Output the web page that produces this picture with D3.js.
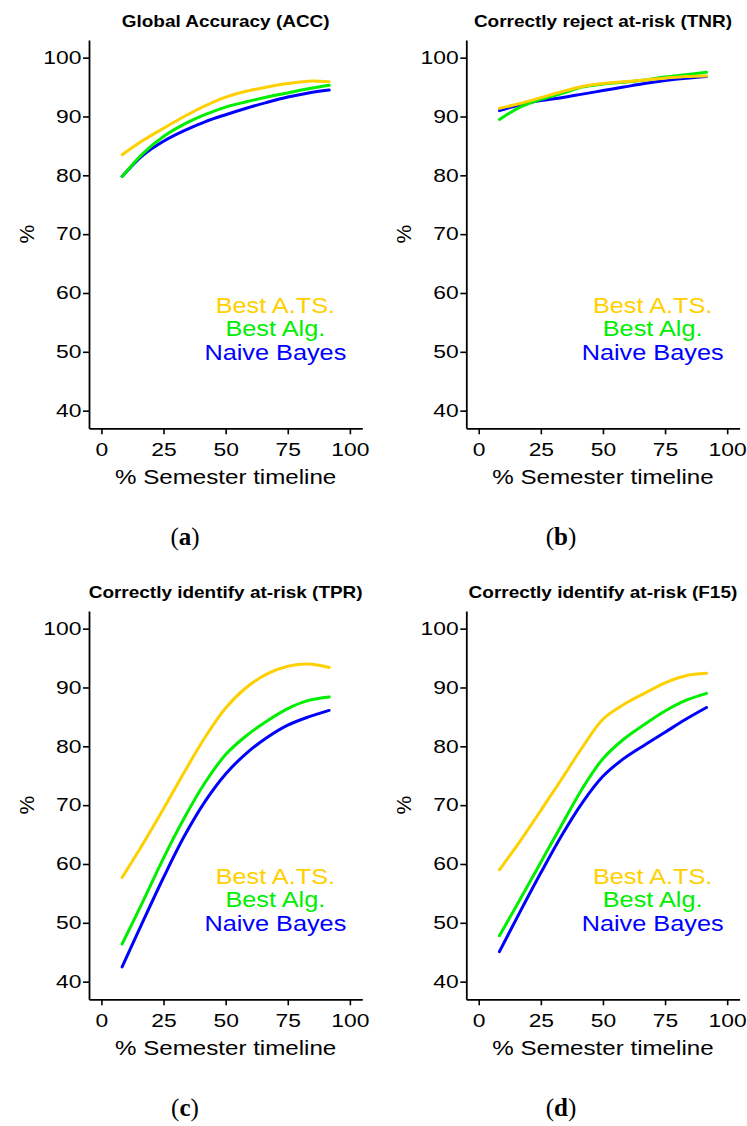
<!DOCTYPE html>
<html>
<head>
<meta charset="utf-8">
<script src="https://cdn.jsdelivr.net/npm/d3@7"></script>
<style>
body { margin: 0; background: #fff; }
</style>
</head>
<body>
<div id="fig"></div>
<script>
// x positions (% of semester) shared by all panels
var timeline = [8.33, 16.67, 25, 33.33, 41.67, 50, 58.33, 66.67, 75, 83.33, 91.67];

var seriesNames = ["Best A.TS.", "Best Alg.", "Naive Bayes"];
var seriesColors = ["#FFD000", "#00EE00", "#0000FF"];

// (a) ACC
var accATS = [83.5, 85.9, 88.0, 90.0, 91.8, 93.3, 94.3, 95.0, 95.6, 96.0, 95.9];
var accAlg = [79.8, 83.7, 86.6, 88.7, 90.3, 91.6, 92.5, 93.3, 94.0, 94.7, 95.3];
var accNB  = [79.8, 83.4, 85.8, 87.6, 89.1, 90.3, 91.4, 92.4, 93.3, 94.0, 94.5];
// (b) TNR
var tnrATS = [91.4, 92.2, 93.2, 94.2, 95.1, 95.6, 95.9, 96.2, 96.5, 96.8, 96.9];
var tnrAlg = [89.5, 91.6, 92.9, 93.9, 95.0, 95.5, 95.8, 96.2, 96.7, 97.1, 97.5];
var tnrNB  = [91.0, 92.0, 92.7, 93.2, 93.8, 94.4, 95.0, 95.6, 96.1, 96.5, 96.8];
// (c) TPR
var tprATS = [57.7, 63.4, 69.4, 75.6, 81.5, 86.5, 90.0, 92.3, 93.6, 94.0, 93.4];
var tprAlg = [46.4, 53.6, 61.0, 67.8, 73.8, 78.6, 81.8, 84.3, 86.4, 87.8, 88.4];
var tprNB  = [42.5, 50.2, 57.7, 64.7, 70.6, 75.3, 78.8, 81.5, 83.6, 85.0, 86.1];
// (d) F15
var f15ATS = [59.0, 63.9, 69.1, 74.4, 79.8, 84.6, 87.1, 89.0, 90.8, 92.0, 92.4];
var f15Alg = [47.8, 54.0, 60.3, 66.6, 72.8, 77.9, 81.2, 83.7, 86.0, 87.8, 89.0];
var f15NB  = [45.1, 51.9, 58.5, 64.8, 70.4, 74.9, 77.9, 80.2, 82.4, 84.6, 86.6];

var xTicks = [0, 25, 50, 75, 100];
var yTicks = [40, 50, 60, 70, 80, 90, 100];

var panels = [
    {title: "Global Accuracy (ACC)", tag: "a", series: [accATS, accAlg, accNB]},
    {title: "Correctly reject at-risk (TNR)", tag: "b", series: [tnrATS, tnrAlg, tnrNB]},
    {title: "Correctly identify at-risk (TPR)", tag: "c", series: [tprATS, tprAlg, tprNB]},
    {title: "Correctly identify at-risk (F15)", tag: "d", series: [f15ATS, f15Alg, f15NB]}
];

var W = 747, H = 1126;
var stretch = 1.15;      // the original raster text is a bit wider than Arial
var tickStretch = 1.27;
var plotW = 273.3, plotH = 388.3;
var lefts = [89, 466.3], tops = [40, 611];
var sans = "'Liberation Sans', Arial, sans-serif";

var svg = d3.select("#fig").append("svg")
    .attr("width", W)
    .attr("height", H)
    .style("font-family", sans);

var x = d3.scaleLinear().domain([-5, 105]).range([0, plotW]);
var y = d3.scaleLinear().domain([37, 103]).range([plotH, 0]);

function wideText(parent, px, py, str) {
    return parent.append("g")
        .attr("transform", "translate(" + px + "," + py + ") scale(" + stretch + ",1)")
        .append("text")
        .attr("text-anchor", "middle")
        .text(str);
}

panels.forEach(function(p, i) {
    var col = i % 2, row = Math.floor(i / 2);
    var g = svg.append("g")
        .attr("transform", "translate(" + lefts[col] + "," + tops[row] + ")");

    // title
    wideText(g, plotW / 2, -13.5, p.title)
        .style("font-size", "16.5px")
        .style("font-weight", "bold");

    // axes
    var yAxis = g.append("g")
        .call(d3.axisLeft(y).tickValues(yTicks).tickSize(6).tickSizeOuter(0).tickPadding(0));
    var xAxis = g.append("g")
        .attr("transform", "translate(0," + plotH + ")")
        .call(d3.axisBottom(x).tickValues(xTicks).tickSize(6).tickSizeOuter(0).tickPadding(9));

    [yAxis, xAxis].forEach(function(ax) {
        ax.select(".domain").attr("stroke", "#000").attr("stroke-width", 1.8);
        ax.selectAll(".tick line").attr("stroke", "#000").attr("stroke-width", 1.6);
        ax.selectAll(".tick text")
            .attr("fill", "#000")
            .attr("transform", "scale(" + tickStretch + ",1)")
            .style("font-size", "18px")
            .style("font-family", sans);
    });

    // axis labels
    wideText(g, plotW / 2, plotH + 55.7, "% Semester timeline")
        .style("font-size", "21px");
    g.append("text")
        .attr("transform", "translate(" + (34 - 89) + "," + (plotH / 2) + ") rotate(-90)")
        .attr("text-anchor", "middle")
        .style("font-size", "21px")
        .text("%");

    // lines, drawn blue first so gold lies on top
    var line = d3.line()
        .x(function(d, k) { return x(timeline[k]); })
        .y(function(d) { return y(d); })
        .curve(d3.curveCatmullRom.alpha(0.5));

    [2, 1, 0].forEach(function(s) {
        g.append("path")
            .datum(p.series[s])
            .attr("d", line)
            .attr("fill", "none")
            .attr("stroke", seriesColors[s])
            .attr("stroke-width", 3)
            .attr("stroke-linecap", "round")
            .attr("stroke-linejoin", "round");
    });

    // legend text
    var legendY = [58, 54, 50];
    seriesNames.forEach(function(name, s) {
        wideText(g, x(70), y(legendY[s]), name)
            .attr("dy", "0.36em")
            .attr("fill", seriesColors[s])
            .style("font-size", "22px");
    });

    // sub-figure tag
    var tag = g.append("text")
        .attr("x", col ? 94.7 : 96)
        .attr("y", plotH + 116.7)
        .attr("text-anchor", "middle")
        .style("font-family", "'Liberation Serif', 'DejaVu Serif', serif")
        .style("font-size", "25px");
    tag.append("tspan").text("(");
    tag.append("tspan").style("font-weight", "bold").text(p.tag);
    tag.append("tspan").text(")");
});
</script>
</body>
</html>
